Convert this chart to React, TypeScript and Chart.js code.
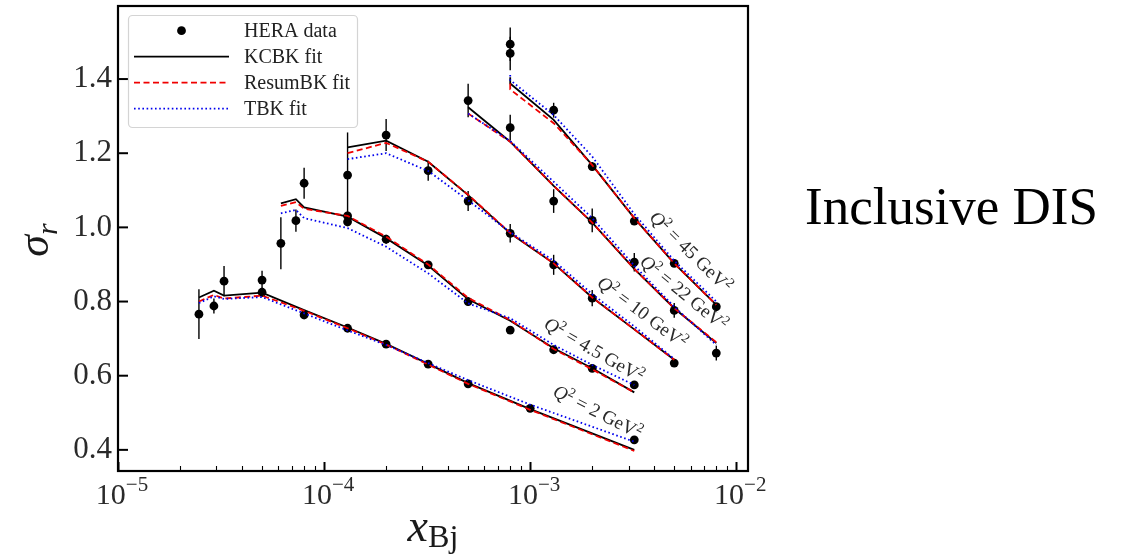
import React, { useEffect, useRef } from 'react';
import { Chart, registerables } from 'chart.js';

Chart.register(...registerables);

const SERIF = '"Liberation Serif", "Times New Roman", serif';

// ---------------- Axis settings ----------------
const X_MIN = 1e-5;
const X_MAX = 1.14e-2;
const Y_MIN = 0.343;
const Y_MAX = 1.597;
const Y_TICKS = [0.4, 0.6, 0.8, 1.0, 1.2, 1.4];
const X_MAJOR_EXP = [-5, -4, -3, -2];

// ---------------- Fit curves ----------------
// Q^2 = 2 GeV^2
const X_Q2_2 = [2.47e-5, 2.92e-5, 3.27e-5, 5e-5, 8e-5, 1.3e-4, 2e-4, 3.2e-4, 5e-4, 1e-3, 3.2e-3];
const KCBK_Q2_2 = [0.811, 0.829, 0.816, 0.824, 0.777, 0.730, 0.686, 0.632, 0.580, 0.510, 0.400];
const RESUM_Q2_2 = [0.800, 0.818, 0.808, 0.816, 0.775, 0.728, 0.684, 0.630, 0.578, 0.508, 0.397];
const TBK_Q2_2 = [0.796, 0.814, 0.807, 0.812, 0.768, 0.722, 0.683, 0.634, 0.588, 0.522, 0.422];

// Q^2 = 4.5 GeV^2
const X_Q2_45 = [6.17e-5, 7.3e-5, 8e-5, 1.3e-4, 2e-4, 3.2e-4, 5e-4, 8e-4, 1.3e-3, 2e-3, 3.2e-3];
const KCBK_Q2_45 = [1.065, 1.076, 1.054, 1.029, 0.971, 0.897, 0.806, 0.748, 0.674, 0.620, 0.555];
const RESUM_Q2_45 = [1.058, 1.068, 1.050, 1.031, 0.975, 0.900, 0.810, 0.750, 0.672, 0.617, 0.555];
const TBK_Q2_45 = [1.038, 1.047, 1.025, 0.998, 0.948, 0.876, 0.795, 0.755, 0.683, 0.629, 0.575];

// Q^2 = 10 GeV^2
const X_Q2_10 = [1.3e-4, 2e-4, 3.2e-4, 5e-4, 8e-4, 1.3e-3, 2e-3, 3.2e-3, 5e-3];
const KCBK_Q2_10 = [1.216, 1.234, 1.177, 1.087, 0.984, 0.903, 0.811, 0.725, 0.643];
const RESUM_Q2_10 = [1.200, 1.228, 1.177, 1.088, 0.985, 0.903, 0.811, 0.725, 0.643];
const TBK_Q2_10 = [1.184, 1.200, 1.152, 1.073, 0.987, 0.910, 0.820, 0.733, 0.645];

// Q^2 = 22 GeV^2
const X_Q2_22 = [5e-4, 8e-4, 1.3e-3, 2e-3, 3.2e-3, 5e-3, 8e-3];
const KCBK_Q2_22 = [1.324, 1.231, 1.112, 1.013, 0.888, 0.782, 0.688];
const RESUM_Q2_22 = [1.307, 1.231, 1.112, 1.013, 0.888, 0.782, 0.690];
const TBK_Q2_22 = [1.307, 1.233, 1.123, 1.025, 0.897, 0.786, 0.683];

// Q^2 = 45 GeV^2
const X_Q2_450 = [8e-4, 8e-4, 1.3e-3, 2e-3, 3.2e-3, 5e-3, 8e-3];
const KCBK_Q2_450 = [1.405, 1.388, 1.290, 1.168, 1.025, 0.903, 0.791];
const RESUM_Q2_450 = [1.388, 1.372, 1.281, 1.168, 1.025, 0.903, 0.791];
const TBK_Q2_450 = [1.411, 1.397, 1.303, 1.191, 1.036, 0.910, 0.800];

// ---------------- HERA data ----------------
const HERA_X_2 = [2.47e-5, 2.92e-5, 3.27e-5, 5e-5, 5e-5, 8e-5, 1.3e-4, 2e-4, 3.2e-4, 5e-4, 1e-3, 3.2e-3];
const HERA_Y_2 = [0.766, 0.788, 0.855, 0.858, 0.825, 0.764, 0.728, 0.685, 0.631, 0.578, 0.512, 0.427];
const HERA_E_2 = [0.067, 0.02, 0.041, 0.025, 0.012, 0.012, 0.01, 0.01, 0.01, 0.01, 0.008, 0.01];

const HERA_X_45 = [6.17e-5, 7.3e-5, 8e-5, 1.3e-4, 1.3e-4, 2e-4, 3.2e-4, 5e-4, 8e-4, 1.3e-3, 2e-3, 3.2e-3];
const HERA_Y_45 = [0.957, 1.018, 1.119, 1.031, 1.015, 0.968, 0.899, 0.800, 0.723, 0.670, 0.620, 0.575];
const HERA_E_45 = [0.07, 0.03, 0.042, 0.012, 0.012, 0.012, 0.01, 0.012, 0.01, 0.01, 0.01, 0.008];

const HERA_X_10 = [1.3e-4, 2e-4, 3.2e-4, 5e-4, 8e-4, 1.3e-3, 2e-3, 5e-3];
const HERA_Y_10 = [1.141, 1.249, 1.153, 1.071, 0.984, 0.899, 0.809, 0.634];
const HERA_E_10 = [0.115, 0.043, 0.027, 0.027, 0.025, 0.027, 0.022, 0.01];

const HERA_X_22 = [5e-4, 8e-4, 1.3e-3, 2e-3, 3.2e-3, 5e-3, 8e-3];
const HERA_Y_22 = [1.342, 1.269, 1.071, 1.019, 0.906, 0.776, 0.661];
const HERA_E_22 = [0.045, 0.035, 0.032, 0.032, 0.025, 0.02, 0.02];

const HERA_X_450 = [8e-4, 8e-4, 1.3e-3, 2e-3, 3.2e-3, 5e-3, 8e-3];
const HERA_Y_450 = [1.494, 1.469, 1.316, 1.164, 1.017, 0.903, 0.786];
const HERA_E_450 = [0.045, 0.045, 0.02, 0.012, 0.01, 0.01, 0.01];

// ---------------- Q^2 annotations (data coordinates) ----------------
const Q2_LABELS = ['2', '4.5', '10', '22', '45'];
const Q2_LABEL_X = [2.13e-3, 2.04e-3, 3.5e-3, 5.57e-3, 6.01e-3];
const Q2_LABEL_Y = [0.5024, 0.6695, 0.771, 0.8232, 0.9345];
const Q2_LABEL_ANGLE = [27, 30, 37, 39.5, 44.5];

const LEGEND_LABELS = ['HERA data', 'KCBK fit', 'ResumBK fit', 'TBK fit'];

const CURVE_X = [X_Q2_2, X_Q2_45, X_Q2_10, X_Q2_22, X_Q2_450];
const CURVES_KCBK = [KCBK_Q2_2, KCBK_Q2_45, KCBK_Q2_10, KCBK_Q2_22, KCBK_Q2_450];
const CURVES_RESUM = [RESUM_Q2_2, RESUM_Q2_45, RESUM_Q2_10, RESUM_Q2_22, RESUM_Q2_450];
const CURVES_TBK = [TBK_Q2_2, TBK_Q2_45, TBK_Q2_10, TBK_Q2_22, TBK_Q2_450];

const HERA_X = [...HERA_X_2, ...HERA_X_45, ...HERA_X_10, ...HERA_X_22, ...HERA_X_450];
const HERA_Y = [...HERA_Y_2, ...HERA_Y_45, ...HERA_Y_10, ...HERA_Y_22, ...HERA_Y_450];
const HERA_E = [...HERA_E_2, ...HERA_E_45, ...HERA_E_10, ...HERA_E_22, ...HERA_E_450];

const RED = '#f00000';
const BLUE = '#0000ee';
const LW = 1.8;
const RED_DASH = [6, 3.5];
const BLUE_DASH = [1.6, 2.6];

type Seg = { t: string; italic?: boolean; scale?: number; dy?: number };

function segFont(s: Seg, size: number) {
  const px = Math.round(size * (s.scale ?? 1) * 10) / 10;
  return `${s.italic ? 'italic ' : ''}${px}px ${SERIF}`;
}

function drawRich(
  ctx: CanvasRenderingContext2D,
  segs: Seg[],
  size: number,
  x: number,
  y: number,
  angleDeg: number,
  align: 'center' | 'left',
  baseline: number,
  color: string
) {
  ctx.save();
  ctx.translate(x, y);
  if (angleDeg) ctx.rotate((angleDeg * Math.PI) / 180);
  ctx.textAlign = 'left';
  ctx.textBaseline = 'alphabetic';
  ctx.fillStyle = color;
  const widths = segs.map((s) => {
    ctx.font = segFont(s, size);
    return ctx.measureText(s.t).width;
  });
  const total = widths.reduce((a, b) => a + b, 0);
  let cx = align === 'center' ? -total / 2 : 0;
  segs.forEach((s, i) => {
    ctx.font = segFont(s, size);
    ctx.fillText(s.t, cx, baseline + (s.dy ?? 0) * size);
    cx += widths[i];
  });
  ctx.restore();
}

const decorPlugin = {
  id: 'decor',
  beforeDatasetsDraw(chart: any) {
    const { ctx, chartArea, scales } = chart;
    const xs = scales.x;
    const ys = scales.y;
    ctx.save();
    ctx.beginPath();
    ctx.rect(chartArea.left, chartArea.top, chartArea.right - chartArea.left, chartArea.bottom - chartArea.top);
    ctx.clip();
    ctx.strokeStyle = '#000';
    ctx.lineWidth = 1.4;
    for (let i = 0; i < HERA_X.length; i++) {
      const px = xs.getPixelForValue(HERA_X[i]);
      const y1 = ys.getPixelForValue(HERA_Y[i] - HERA_E[i]);
      const y2 = ys.getPixelForValue(HERA_Y[i] + HERA_E[i]);
      ctx.beginPath();
      ctx.moveTo(px, y1);
      ctx.lineTo(px, y2);
      ctx.stroke();
    }
    ctx.restore();
  },
  afterDatasetsDraw(chart: any) {
    const { ctx, scales } = chart;
    const xs = scales.x;
    const ys = scales.y;
    for (let i = 0; i < Q2_LABELS.length; i++) {
      const px = xs.getPixelForValue(Q2_LABEL_X[i]);
      const py = ys.getPixelForValue(Q2_LABEL_Y[i]);
      drawRich(
        ctx,
        [
          { t: 'Q', italic: true },
          { t: '2', scale: 0.7, dy: -0.38 },
          { t: ' = ' + Q2_LABELS[i] + ' GeV' },
          { t: '2', scale: 0.7, dy: -0.38 },
        ],
        19,
        px,
        py,
        Q2_LABEL_ANGLE[i],
        'center',
        6,
        '#2a2a2a'
      );
    }
  },
  afterDraw(chart: any) {
    const { ctx, chartArea, scales } = chart;
    const xs = scales.x;
    const ys = scales.y;
    const { left, right, top, bottom } = chartArea;
    ctx.save();
    // ticks (inward)
    ctx.strokeStyle = '#000';
    for (let e = -5; e <= -2; e++) {
      for (let k = 1; k <= 9; k++) {
        const v = k * Math.pow(10, e);
        if (v < X_MIN * 0.999 || v > X_MAX) continue;
        const px = Math.round(xs.getPixelForValue(v)) + 0.5;
        const len = k === 1 ? 9 : 5;
        ctx.lineWidth = k === 1 ? 2 : 1.1;
        ctx.beginPath();
        ctx.moveTo(px, bottom);
        ctx.lineTo(px, bottom - len);
        ctx.stroke();
      }
    }
    ctx.lineWidth = 2;
    for (const v of Y_TICKS) {
      const py = ys.getPixelForValue(v);
      ctx.beginPath();
      ctx.moveTo(left, py);
      ctx.lineTo(left + 10, py);
      ctx.stroke();
    }
    // frame
    ctx.lineWidth = 2.2;
    ctx.strokeRect(left, top, right - left, bottom - top);
    ctx.restore();

    // x tick labels 10^{n}
    for (const e of X_MAJOR_EXP) {
      const px = xs.getPixelForValue(Math.pow(10, e));
      drawRich(
        ctx,
        [{ t: '10' }, { t: '\u2212' + Math.abs(e), scale: 0.7, dy: -0.43 }],
        30,
        px + 4,
        bottom + 33,
        0,
        'center',
        0,
        '#2a2a2a'
      );
    }
    // axis titles
    drawRich(
      ctx,
      [{ t: 'x', italic: true }, { t: 'Bj', scale: 0.7, dy: 0.14 }],
      46,
      433,
      bottom + 70,
      0,
      'center',
      0,
      '#1a1a1a'
    );
    drawRich(
      ctx,
      [{ t: '\u03C3', italic: true }, { t: 'r', italic: true, scale: 0.68, dy: 0.2 }],
      44,
      40,
      240,
      -90,
      'center',
      8,
      '#1a1a1a'
    );

    // legend
    const x0 = left + 10;
    const y0 = top + 9;
    const w = 229;
    const h = 112;
    ctx.save();
    ctx.beginPath();
    (ctx as any).roundRect(x0 + 0.5, y0 + 0.5, w, h, 4);
    ctx.fillStyle = 'rgba(255,255,255,0.85)';
    ctx.fill();
    ctx.strokeStyle = '#d4d4d4';
    ctx.lineWidth = 1.2;
    ctx.stroke();
    const lx1 = x0 + 6;
    const lx2 = x0 + 101;
    const rows = [0, 1, 2, 3].map((i) => y0 + 15.7 + 26 * i);
    // HERA marker
    ctx.fillStyle = '#000';
    ctx.beginPath();
    ctx.arc((lx1 + lx2) / 2, rows[0], 4.4, 0, Math.PI * 2);
    ctx.fill();
    const styles: [string, number[]][] = [
      ['#000', []],
      [RED, RED_DASH],
      [BLUE, BLUE_DASH],
    ];
    styles.forEach(([c, d], i) => {
      ctx.strokeStyle = c;
      ctx.lineWidth = LW;
      ctx.setLineDash(d);
      ctx.beginPath();
      ctx.moveTo(lx1, rows[i + 1]);
      ctx.lineTo(lx2, rows[i + 1]);
      ctx.stroke();
    });
    ctx.setLineDash([]);
    ctx.fillStyle = '#222';
    ctx.font = `20px ${SERIF}`;
    ctx.textAlign = 'left';
    ctx.textBaseline = 'middle';
    LEGEND_LABELS.forEach((t, i) => ctx.fillText(t, x0 + 116, rows[i] + 1));
    ctx.restore();
  },
};

function curveDatasets(curves: number[][], color: string, dash: number[]) {
  return curves.map((ys, g) => ({
    type: 'scatter' as const,
    data: CURVE_X[g].map((x, i) => ({ x, y: ys[i] })),
    showLine: true,
    borderColor: color,
    borderWidth: LW,
    borderDash: dash,
    pointRadius: 0,
    fill: false,
    tension: 0,
  }));
}

export default function App() {
  const ref = useRef<HTMLCanvasElement | null>(null);

  useEffect(() => {
    if (!ref.current) return;
    const chart = new Chart(ref.current, {
      type: 'scatter',
      data: {
        datasets: [
          ...curveDatasets(CURVES_TBK, BLUE, BLUE_DASH),
          ...curveDatasets(CURVES_RESUM, RED, RED_DASH),
          ...curveDatasets(CURVES_KCBK, '#000', []),
          {
            type: 'scatter',
            data: HERA_X.map((x, i) => ({ x, y: HERA_Y[i] })),
            showLine: false,
            pointRadius: 4.4,
            pointBackgroundColor: '#000',
            pointBorderWidth: 0,
            borderColor: '#000',
          },
        ] as any,
      },
      options: {
        animation: false,
        responsive: false,
        devicePixelRatio: 1,
        layout: { padding: { left: 0, right: 379, top: 6, bottom: 0 } },
        plugins: { legend: { display: false }, tooltip: { enabled: false } },
        scales: {
          x: {
            type: 'logarithmic',
            min: X_MIN,
            max: X_MAX,
            grid: { display: false, drawTicks: false },
            border: { display: false },
            ticks: { display: false },
            afterFit: (s: any) => {
              s.height = 85;
              s.paddingLeft = 0;
              s.paddingRight = 0;
            },
          },
          y: {
            type: 'linear',
            min: Y_MIN,
            max: Y_MAX,
            grid: { display: false, drawTicks: false },
            border: { display: false },
            ticks: {
              font: { family: SERIF, size: 31 },
              color: '#2a2a2a',
              padding: 6,
              callback: (v: any) => Number(v).toFixed(1),
            },
            afterBuildTicks: (s: any) => {
              s.ticks = Y_TICKS.map((v) => ({ value: v }));
            },
            afterFit: (s: any) => {
              s.width = 118;
              s.paddingTop = 0;
              s.paddingBottom = 0;
            },
          },
        },
      } as any,
      plugins: [decorPlugin],
    });
    return () => chart.destroy();
  }, []);

  return (
    <div style={{ position: 'fixed', left: 0, top: 0, width: 1127, height: 556, background: '#fff' }}>
      <canvas ref={ref} width={1127} height={556} style={{ display: 'block', width: 1127, height: 556 }} />
      <div
        style={{
          position: 'absolute',
          left: 805,
          top: 180,
          fontFamily: SERIF,
          fontSize: 53,
          lineHeight: '53px',
          color: '#000',
          whiteSpace: 'nowrap',
        }}
      >
        Inclusive DIS
      </div>
    </div>
  );
}
